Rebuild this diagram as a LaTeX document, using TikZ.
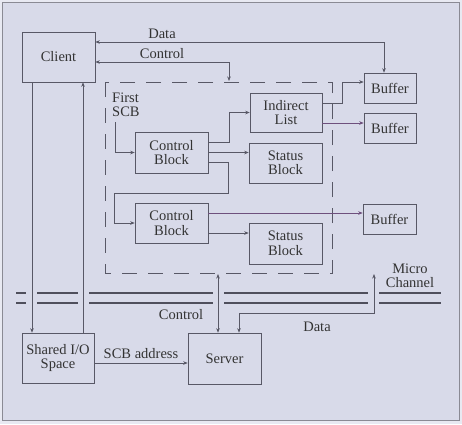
\documentclass[tikz,border=0pt]{standalone}
\usepackage{fontspec}
\setmainfont{Liberation Serif}
\usepackage{xcolor}
\definecolor{paper}{RGB}{216,218,233}
\definecolor{margin}{RGB}{232,233,242}
\definecolor{ink}{RGB}{88,88,102}
\definecolor{violetink}{RGB}{110,80,125}
\usetikzlibrary{arrows.meta}

\begin{document}
\begin{tikzpicture}[x=1pt, y=-1pt,
    >={Stealth[length=4.5pt,width=3.5pt]},
    unit/.style={draw=ink, line width=0.6pt, fill=paper, text=black!80,
        align=center, inner sep=0pt},
    link/.style={ink, line width=0.6pt},
    vlink/.style={violetink, line width=0.6pt},
    bus/.style={ink!90!black, line width=1.1pt},
    txt/.style={text=black!80, align=center, inner sep=0pt},
    every node/.append style={font=\fontsize{14.5}{14.5}\selectfont},
]

%% --- page and frame ---
\fill[margin] (0,0) rectangle (462,424);
\fill[paper] (2,2) rectangle (459,420);
\draw[ink!70, line width=0.8pt] (2,2) rectangle (459,420);

%% --- SCB area (dashed) ---
\draw[ink, line width=0.6pt, dash pattern=on 15pt off 11pt] (105,82) rectangle (332,273);

%% --- boxes ---
\node[unit, minimum width=73pt, minimum height=50pt] (client) at (58.5,57) {Client};
\node[unit, minimum width=52pt, minimum height=30pt] (buf1) at (390,88) {Buffer};
\node[unit, minimum width=52pt, minimum height=30pt] (buf2) at (390,128) {Buffer};
\node[unit, minimum width=53pt, minimum height=30pt] (buf3) at (389.5,219) {Buffer};
\node[unit, minimum width=72pt, minimum height=39pt] (ilist) at (286,112.5) {Indirect\\List};
\node[unit, minimum width=73pt, minimum height=41pt] (cb1) at (171.5,152.5) {Control\\Block};
\node[unit, minimum width=73pt, minimum height=40pt] (sb1) at (285.5,163) {Status\\Block};
\node[unit, minimum width=73pt, minimum height=40pt] (cb2) at (171.5,223) {Control\\Block};
\node[unit, minimum width=73pt, minimum height=41pt] (sb2) at (285.5,243.5) {Status\\Block};
\node[unit, minimum width=72pt, minimum height=50pt] (shared) at (58,358) {Shared I/O\\Space};
\node[unit, minimum width=73pt, minimum height=51pt] (server) at (224.5,358.5) {Server};

%% --- free ends ---
\coordinate (ctl) at (229,81);
\coordinate (scb) at (115,122);
\coordinate (bend) at (114,193);
\coordinate (dbot) at (218,274);
\coordinate (mc) at (374,274);

%% --- Micro Channel ---
\foreach \a/\b in {16/26, 37/78, 89/213, 224/368, 379/441}{
    \draw[bus] (\a,293) -- (\b,293);
    \draw[bus] (\a,303) -- (\b,303);
}
\node[txt] (mclabel) at (410,276) {Micro\\Channel};

%% --- client side ---
\draw[link, <->] ([yshift=15pt]client.east) -| ([xshift=-6pt]buf1.north);
\node[txt] (datatop) at (162,34) {Data};
\draw[link, <->] ([yshift=-5pt]client.east) -| (ctl);
\node[txt] (ctltop) at (162,54) {Control};
\draw[link, ->] ([xshift=-26.5pt]client.south) -- ([xshift=-26.5pt]client.south |- shared.north);
\draw[link, ->] ([xshift=24.5pt]client.south |- shared.north) -- ([xshift=24.5pt]client.south);

%% --- SCB chain ---
\node[txt, align=left, anchor=west] (first) at (112,105) {First\\SCB};
\draw[link, ->] (scb) |- (cb1.west);
\draw[link, ->] ([yshift=10pt]cb1.east) -- ++(21,0) |- (ilist.west);
\draw[link, ->] (cb1.east) -- (cb1.east -| sb1.west);
\draw[link, ->] ([yshift=-10pt]cb1.east) -- ++(20,0) |- (bend) |- (cb2.west);
\draw[vlink, ->] ([yshift=10pt]cb2.east) -- ([yshift=10pt]cb2.east -| buf3.west);
\draw[link, ->] ([yshift=-10pt]cb2.east) -- ([yshift=-10pt]cb2.east -| sb2.west);
\draw[link, ->] ([yshift=9.5pt]ilist.east) -- ++(20,0) |- ([yshift=6pt]buf1.west);
\draw[vlink, ->] ([yshift=-10.5pt]ilist.east) -- ([yshift=-10.5pt]ilist.east -| buf2.west);

%% --- server side ---
\draw[link, ->] ([yshift=-5pt]shared.east) -- node[txt, above=4pt] (scbaddr) {SCB address}
    ([yshift=-5pt]shared.east -| server.west);
\draw[link, <->] (dbot) -- (dbot |- server.north);
\node[txt] (ctlbot) at (181,315) {Control};
\draw[link, <->] (mc) -- ++(0,39) -| ([xshift=14.5pt]server.north);
\node[txt] (databot) at (317,327) {Data};

\end{tikzpicture}
\end{document}
